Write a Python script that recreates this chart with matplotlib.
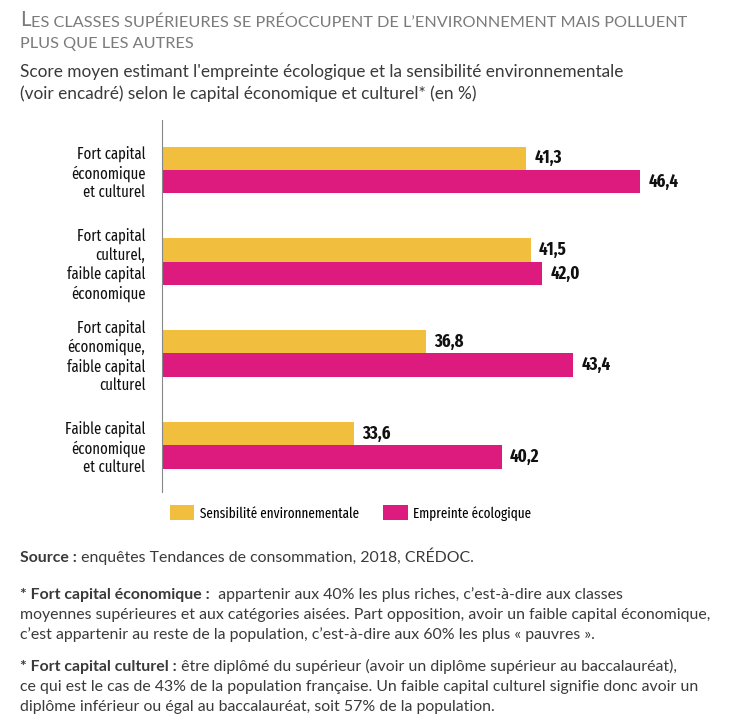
import matplotlib
matplotlib.use("Agg")
import matplotlib.pyplot as plt
import numpy as np

categories = [
    "Fort capital\néconomique\net culturel",
    "Fort capital\nculturel,\nfaible capital\néconomique",
    "Fort capital\néconomique,\nfaible capital\nculturel",
    "Faible capital\néconomique\net culturel",
]
sensibilite = [41.3, 41.5, 36.8, 33.6]
empreinte = [46.4, 42.0, 43.4, 40.2]
series_names = ["Sensibilité environnementale", "Empreinte écologique"]
colors = ["#F1BE3D", "#DD1A7E"]

W, H = 729, 720
fig = plt.figure(figsize=(W / 100, H / 100), dpi=100)

def fx(px):
    return px / W

def fy(py):
    return 1 - py / H

ax_left, ax_top, ax_bottom = 162, 120, 492
ax = fig.add_axes([fx(ax_left), fy(ax_bottom), fx(W - ax_left), (ax_bottom - ax_top) / H])

y = np.arange(len(categories))
bh = 0.255
b1 = ax.barh(y - bh / 2, sensibilite, height=bh, color=colors[0], label=series_names[0])
b2 = ax.barh(y + bh / 2, empreinte, height=bh, color=colors[1], label=series_names[1])
ax.set_xlim(25, 25 + (W - ax_left) / 22.35)
ax.set_ylim(3.51, -0.545)

narrow = ["Fira Sans Extra Condensed", "DejaVu Sans"]
for bars, vals in ((b1, sensibilite), (b2, empreinte)):
    for rect, v in zip(bars, vals):
        ax.annotate(f"{v:.1f}".replace(".", ","),
                    xy=(rect.get_width(), rect.get_y() + rect.get_height() / 2),
                    xytext=(6, 0), textcoords="offset points",
                    ha="left", va="center", fontsize=13, fontweight="bold",
                    family=narrow, color="#111111")

ax.set_yticks(y)
ax.set_yticklabels(categories, family=narrow, fontsize=11.5, color="#111111",
                   linespacing=1.22)
ax.tick_params(axis="y", length=0, pad=12)
ax.set_xticks([])
for s in ("top", "right", "bottom"):
    ax.spines[s].set_visible(False)
ax.spines["left"].set_color("#888888")
ax.spines["left"].set_linewidth(0.8)

fig.legend(handles=[b1, b2], labels=series_names, loc="center left",
           bbox_to_anchor=(fx(157), fy(513)), ncol=2, frameon=False,
           prop={"family": narrow, "size": 10.3}, handlelength=1.7,
           handleheight=1.2, handletextpad=0.4, columnspacing=1.7)

gray = "#7b7b7b"
body = ["Lato", "DejaVu Sans"]
t1 = fig.text(fx(20), fy(26), "L", fontsize=14.8, color=gray, family=body,
              va="baseline", ha="left")
fig.canvas.draw()
ax.annotate("ES CLASSES SUPÉRIEURES SE PRÉOCCUPENT DE L\u2019ENVIRONNEMENT MAIS POLLUENT",
            xy=(1, 0), xycoords=t1, xytext=(0.3, 0), textcoords="offset points",
            fontsize=11.7, color=gray, family=body, va="bottom", ha="left",
            annotation_clip=False)
fig.text(fx(20), fy(48), "PLUS QUE LES AUTRES", fontsize=11.7, color=gray,
         family=body, va="baseline", ha="left")

txt = "#3a3a3a"
fig.text(fx(20), fy(77), "Score moyen estimant l'empreinte écologique et la sensibilité environnementale",
         fontsize=12.45, color=txt, family=body, va="baseline", ha="left")
fig.text(fx(20), fy(99), "(voir encadré) selon le capital économique et culturel* (en %)",
         fontsize=12.45, color=txt, family=body, va="baseline", ha="left")

fs = 11.4

def mixed(xp, yp, parts):
    prev = None
    for text, bold in parts:
        if prev is None:
            prev = fig.text(fx(xp), fy(yp), text, fontsize=fs, color=txt, family=body,
                            fontweight="bold" if bold else "normal", va="baseline", ha="left")
        else:
            fig.canvas.draw()
            prev = ax.annotate(text, xy=(1, 0), xycoords=prev, xytext=(0, 0),
                               textcoords="offset points", fontsize=fs, color=txt,
                               family=body, fontweight="bold" if bold else "normal",
                               va="bottom", ha="left", annotation_clip=False)

mixed(20, 562, [("Source :", True), (" enquêtes Tendances de consommation, 2018, CRÉDOC.", False)])
mixed(20, 599, [("* Fort capital économique :", True),
                ("  appartenir aux 40% les plus riches, c\u2019est-à-dire aux classes", False)])
fig.text(fx(20), fy(619), "moyennes supérieures et aux catégories aisées. Part opposition, avoir un faible capital économique,",
         fontsize=fs, color=txt, family=body, va="baseline")
fig.text(fx(20), fy(639), "c\u2019est appartenir au reste de la population, c\u2019est-à-dire aux 60% les plus « pauvres ».",
         fontsize=fs, color=txt, family=body, va="baseline")
mixed(20, 671, [("* Fort capital culturel :", True),
                (" être diplômé du supérieur (avoir un diplôme supérieur au baccalauréat),", False)])
fig.text(fx(20), fy(691), "ce qui est le cas de 43% de la population française. Un faible capital culturel signifie donc avoir un",
         fontsize=fs, color=txt, family=body, va="baseline")
fig.text(fx(20), fy(711), "diplôme inférieur ou égal au baccalauréat, soit 57% de la population.",
         fontsize=fs, color=txt, family=body, va="baseline")

fig.savefig("out.png", dpi=100)
